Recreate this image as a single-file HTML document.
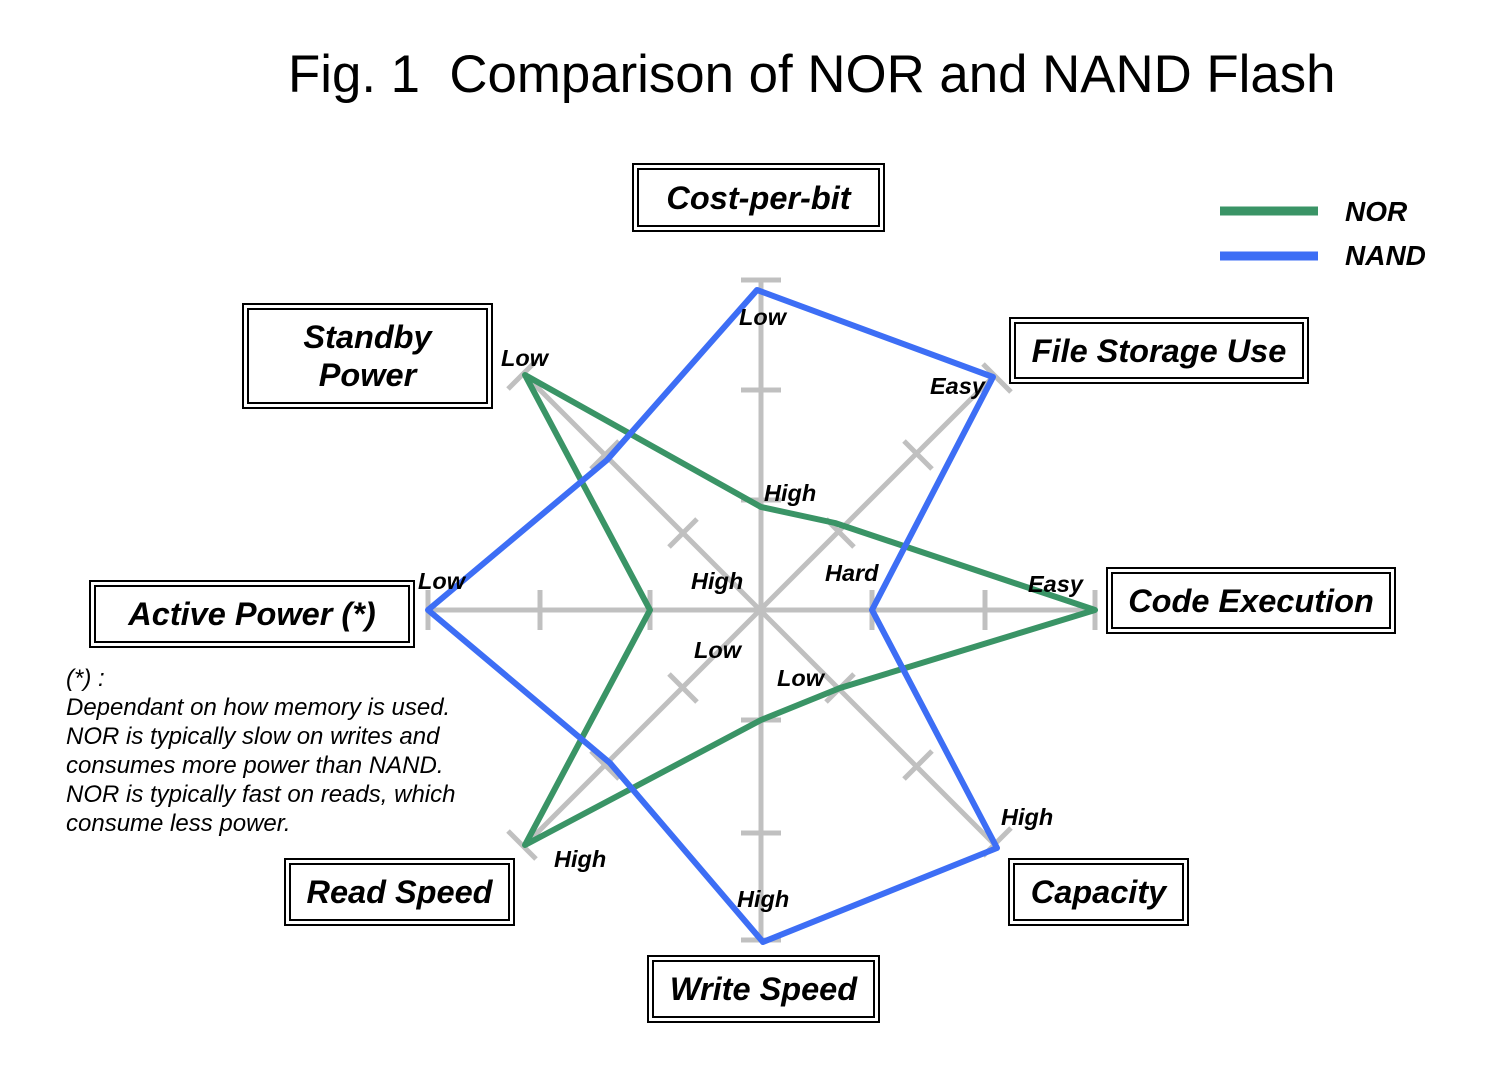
<!DOCTYPE html>
<html><head><meta charset="utf-8"><style>
body{margin:0;background:#fff;width:1504px;height:1080px;position:relative;overflow:hidden;font-family:"Liberation Sans",sans-serif}
.box{position:absolute;border:2px solid #000;outline:2px solid #000;outline-offset:3px;display:flex;align-items:center;justify-content:center;text-align:center;font-weight:bold;font-style:italic;font-size:32.5px;line-height:38px;box-sizing:border-box;white-space:nowrap}
.t{position:absolute;font-weight:bold;font-style:italic;font-size:23.5px}
</style></head><body>
<div style="position:absolute;left:288px;top:44px;font-size:52.8px;white-space:nowrap">Fig. 1&nbsp; Comparison of NOR and NAND Flash</div>
<svg width="1504" height="1080" style="position:absolute;left:0;top:0">
<g stroke="#c0c0c0" stroke-width="5" fill="none">
<line x1="761" y1="278" x2="761" y2="942"/>
<line x1="428" y1="610" x2="1095" y2="610"/>
<line x1="525" y1="375" x2="995" y2="845"/>
<line x1="995" y1="375" x2="525" y2="845"/>
<path d="M741 280h40M741 390h40M741 500h40M741 720h40M741 833h40M741 940h40"/>
<path d="M428 590v40M540 590v40M650 590v40M872 590v40M985 590v40M1095 590v40"/>
<path d="M508 389l28-28M591 469l28-28M669 547l28-28M1011 392l-28-28M932 469l-28-28M854 547l-28-28"/>
<path d="M508 831l28 28M591 751l28 28M669 674l28 28M1011 828l-28 28M932 751l-28 28M854 674l-28 28"/>
</g>
<polygon fill="none" stroke="#3a9466" stroke-width="6" stroke-linejoin="round" points="761,507 835,523 1095,610 840,688 761,720 525,845 650,610 525,375"/>
<polygon fill="none" stroke="#3d6ef5" stroke-width="6" stroke-linejoin="round" points="757,290 993,377 872,610 997,848 763,942 610,763 428,610 607,460"/>
<line x1="1220" y1="211" x2="1318" y2="211" stroke="#3a9466" stroke-width="9"/>
<line x1="1220" y1="256" x2="1318" y2="256" stroke="#3d6ef5" stroke-width="9"/>
</svg>
<div class="t" style="left:1345px;top:196px;font-size:28px">NOR</div>
<div class="t" style="left:1345px;top:240px;font-size:28px">NAND</div>
<div class="box" style="left:637px;top:168px;width:243px;height:59px">Cost-per-bit</div>
<div class="box" style="left:1014px;top:322px;width:290px;height:57px">File Storage Use</div>
<div class="box" style="left:247px;top:308px;width:241px;height:96px">Standby<br>Power</div>
<div class="box" style="left:1111px;top:572px;width:280px;height:57px">Code Execution</div>
<div class="box" style="left:94px;top:585px;width:316px;height:58px">Active Power (*)</div>
<div class="box" style="left:289px;top:863px;width:221px;height:58px">Read Speed</div>
<div class="box" style="left:1013px;top:863px;width:171px;height:58px">Capacity</div>
<div class="box" style="left:652px;top:960px;width:223px;height:58px">Write Speed</div>
<div class="t" style="left:739px;top:304px">Low</div>
<div class="t" style="left:930px;top:373px">Easy</div>
<div class="t" style="left:501px;top:345px">Low</div>
<div class="t" style="left:764px;top:480px">High</div>
<div class="t" style="left:691px;top:568px">High</div>
<div class="t" style="left:825px;top:560px">Hard</div>
<div class="t" style="left:1028px;top:571px">Easy</div>
<div class="t" style="left:418px;top:568px">Low</div>
<div class="t" style="left:694px;top:637px">Low</div>
<div class="t" style="left:777px;top:665px">Low</div>
<div class="t" style="left:1001px;top:804px">High</div>
<div class="t" style="left:554px;top:846px">High</div>
<div class="t" style="left:737px;top:886px">High</div>
<div style="position:absolute;left:66px;top:664px;font-style:italic;font-size:24px;line-height:29px;white-space:nowrap">(*) :<br>Dependant on how memory is used.<br>NOR is typically slow on writes and<br>consumes more power than NAND.<br>NOR is typically fast on reads, which<br>consume less power.</div>
</body></html>
